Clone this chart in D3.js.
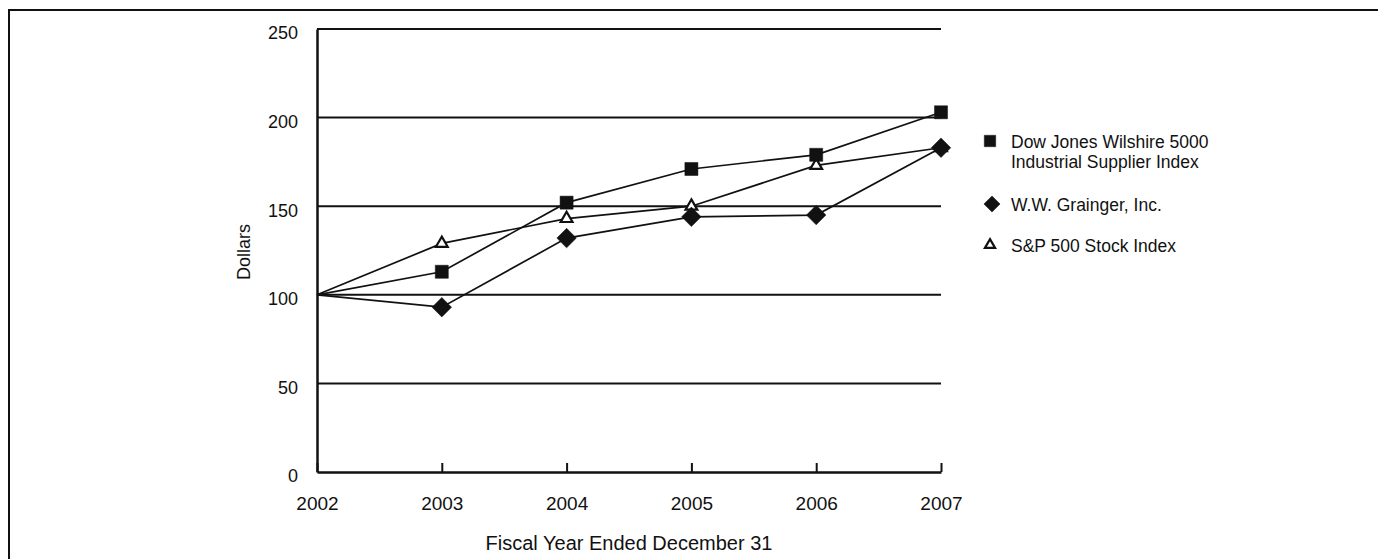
<!DOCTYPE html>
<html>
<head>
<meta charset="utf-8">
<script src="https://cdn.jsdelivr.net/npm/d3@7/dist/d3.min.js"></script>
<style>
  body { margin: 0; background: #fff; }
  text { font-family: "Liberation Sans", Arial, sans-serif; fill: #111; }
</style>
</head>
<body>
<svg id="chart" width="1378" height="559"></svg>
<script>
// data
const years = [2002, 2003, 2004, 2005, 2006, 2007]
const dowJones = [100, 113, 152, 171, 179, 203]
const grainger = [100, 93, 132, 144, 145, 183]
const sp500 = [100, 129, 143, 150, 173, 183]
const yTicks = [0, 50, 100, 150, 200, 250]

const seriesNames = ["Dow Jones Wilshire 5000|Industrial Supplier Index", "W.W. Grainger, Inc.", "S&P 500 Stock Index"]

const svg = d3.select("#chart")

// outer frame (top and left only)
svg.append("path")
    .attr("d", "M9,560 V10 H1378")
    .attr("fill", "none")
    .attr("stroke", "#111")
    .attr("stroke-width", 2)

const margin = { top: 29, left: 317 }
const width = 624
const height = 443

const xScale = d3.scalePoint()
    .domain(years)
    .range([margin.left, margin.left + width])

const yScale = d3.scaleLinear()
    .domain([0, 250])
    .range([margin.top + height, margin.top])

// gridlines
svg.append("g")
    .selectAll("line")
    .data(yTicks.filter(d => d > 0))
    .join("line")
      .attr("x1", margin.left)
      .attr("x2", margin.left + width)
      .attr("y1", d => yScale(d))
      .attr("y2", d => yScale(d))
      .attr("stroke", "#111")
      .attr("stroke-width", 2)

// y axis
const yAxis = svg.append("g")
    .attr("transform", `translate(${margin.left},0)`)
    .call(d3.axisLeft(yScale).tickValues(yTicks).tickSize(0).tickPadding(19))
yAxis.select(".domain").attr("stroke", "#111").attr("stroke-width", 2.5)
yAxis.selectAll("text")
    .attr("dy", "0.55em")
    .style("font-size", "18px")
    .style("font-family", "'Liberation Sans', Arial, sans-serif")
    .attr("fill", "#111")

// x axis with ticks pointing up
const xAxis = svg.append("g")
    .attr("transform", `translate(0,${margin.top + height})`)
    .call(d3.axisBottom(xScale).tickSizeInner(-9).tickSizeOuter(0).tickPadding(25))
xAxis.select(".domain").attr("stroke", "#111").attr("stroke-width", 2.5)
xAxis.selectAll(".tick line").attr("stroke", "#111").attr("stroke-width", 2)
xAxis.selectAll("text")
    .style("font-size", "19px")
    .style("font-family", "'Liberation Sans', Arial, sans-serif")
    .attr("fill", "#111")

// axis titles
svg.append("text")
    .attr("transform", "translate(250,252) rotate(-90)")
    .attr("text-anchor", "middle")
    .style("font-size", "18px")
    .text("Dollars")

svg.append("text")
    .attr("x", 629)
    .attr("y", 550)
    .attr("text-anchor", "middle")
    .style("font-size", "20px")
    .text("Fiscal Year Ended December 31")

// lines
const line = d3.line()
    .x((d, i) => xScale(years[i]))
    .y(d => yScale(d))

const allSeries = [
    { values: dowJones, symbol: d3.symbolSquare, size: 170, rotate: 0, fill: "#111" },
    { values: grainger, symbol: d3.symbolSquare, size: 190, rotate: 45, fill: "#111" },
    { values: sp500, symbol: d3.symbolTriangle, size: 60, rotate: 0, fill: "#fff" }
]

allSeries.forEach(s => {
    svg.append("path")
        .datum(s.values)
        .attr("d", line)
        .attr("fill", "none")
        .attr("stroke", "#111")
        .attr("stroke-width", 1.7)
})

// markers (draw S&P first so the filled symbols sit on top)
;[2, 0, 1].forEach(k => {
    const s = allSeries[k]
    svg.append("g")
        .selectAll("path")
        .data(s.values.slice(1))
        .join("path")
          .attr("transform", (d, i) => `translate(${xScale(years[i + 1])},${yScale(d)}) rotate(${s.rotate})`)
          .attr("d", d3.symbol().type(s.symbol).size(s.size))
          .attr("fill", s.fill)
          .attr("stroke", "#111")
          .attr("stroke-width", k === 2 ? 2.2 : 0.5)
})

// legend
const legendY = [141, 204, 245]
const legendSize = [130, 130, 45]
const legend = svg.append("g")
seriesNames.forEach((name, i) => {
    const s = allSeries[i]
    legend.append("path")
        .attr("transform", `translate(${i === 1 ? 992 : 990},${legendY[i]}) rotate(${s.rotate})`)
        .attr("d", d3.symbol().type(s.symbol).size(legendSize[i]))
        .attr("fill", s.fill)
        .attr("stroke", "#111")
        .attr("stroke-width", i === 2 ? 2.2 : 0.5)
    const lines = name.split("|")
    lines.forEach((t, j) => {
        legend.append("text")
            .attr("x", 1011)
            .attr("y", legendY[i] + 7 + j * 20)
            .style("font-size", "17.5px")
            .text(t)
    })
})
</script>
</body>
</html>
